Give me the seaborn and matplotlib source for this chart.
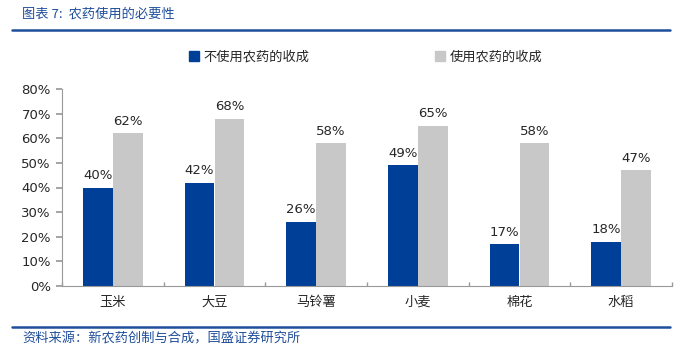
import matplotlib
matplotlib.use("Agg")
import matplotlib.pyplot as plt
from matplotlib.lines import Line2D
import seaborn as sns
import pandas as pd
import numpy as np

categories = ["玉米", "大豆", "马铃薯", "小麦", "棉花", "水稻"]
series_names = ["不使用农药的收成", "使用农药的收成"]
no_pesticide = [40, 42, 26, 49, 17, 18]
with_pesticide = [62, 68, 58, 65, 58, 47]
yticks = [0, 10, 20, 30, 40, 50, 60, 70, 80]
title = "图表 7:  农药使用的必要性"
source = "资料来源：新农药创制与合成，国盛证券研究所"

colors = ["#003F98", "#C8C8C8"]
text_blue = "#1F4E9A"

sns.set_theme(style="white")
plt.rcParams['font.family'] = ['Noto Sans CJK SC', 'DejaVu Sans']

df = pd.DataFrame({
    "cat": categories * 2,
    "series": [series_names[0]] * len(categories) + [series_names[1]] * len(categories),
    "val": no_pesticide + with_pesticide,
})

fig = plt.figure(figsize=(6.83, 3.54), dpi=100)
ax = fig.add_axes([62 / 683, 1 - 286 / 354, (672 - 62) / 683, (286 - 89) / 354])

sns.barplot(data=df, x="cat", y="val", hue="series", palette=colors,
            width=0.59, gap=0, ax=ax, legend=False, saturation=1,
            linewidth=0, edgecolor="none")

ax.set_ylim(0, 80)
ax.set_xlim(-0.5, len(categories) - 0.5)
ax.set_yticks(yticks)
ax.set_yticklabels([f"{v}%" for v in yticks], fontsize=9.5, family=['DejaVu Sans'])
ax.set_xlabel("")
ax.set_ylabel("")
ax.tick_params(axis="x", length=0, labelsize=9.5, pad=7)
ax.set_xticks(np.arange(-0.5, len(categories) + 0.5, 1.0), minor=True)
ax.tick_params(axis="x", which="minor", direction="in", length=3, color="#999999")
ax.tick_params(axis="y", direction="out", length=4, color="#999999", labelsize=9.5, pad=4)
ax.yaxis.set_ticks_position("left")
ax.xaxis.set_ticks_position("bottom")

for s in ["top", "right"]:
    ax.spines[s].set_visible(False)
for s in ["left", "bottom"]:
    ax.spines[s].set_color("#999999")
    ax.spines[s].set_linewidth(0.8)

for cont in ax.containers:
    ax.bar_label(cont, labels=[f"{int(v)}%" for v in cont.datavalues],
                 padding=4, fontsize=9.5, family=['DejaVu Sans'])

handles = [plt.Rectangle((0, 0), 1, 1, color=c) for c in colors]
fig.legend(handles, series_names, loc="center", bbox_to_anchor=(0.535, 1 - 57 / 354),
           ncol=2, frameon=False, fontsize=9.5, handlelength=0.8, handleheight=0.8,
           handletextpad=0.3, columnspacing=9.5)

fig.text(22 / 683, 1 - 14 / 354, title, color=text_blue, fontsize=9.5,
         style="italic", va="center", ha="left")
fig.add_artist(Line2D([12 / 683, 670 / 683], [1 - 30 / 354] * 2, color=text_blue, lw=1.8,
                      transform=fig.transFigure))
fig.add_artist(Line2D([12 / 683, 670 / 683], [1 - 327 / 354] * 2, color=text_blue, lw=1.8,
                      transform=fig.transFigure))
fig.text(22 / 683, 1 - 339 / 354, source, color=text_blue, fontsize=9.5,
         style="italic", va="center", ha="left")

fig.savefig("out.png", dpi=100)
